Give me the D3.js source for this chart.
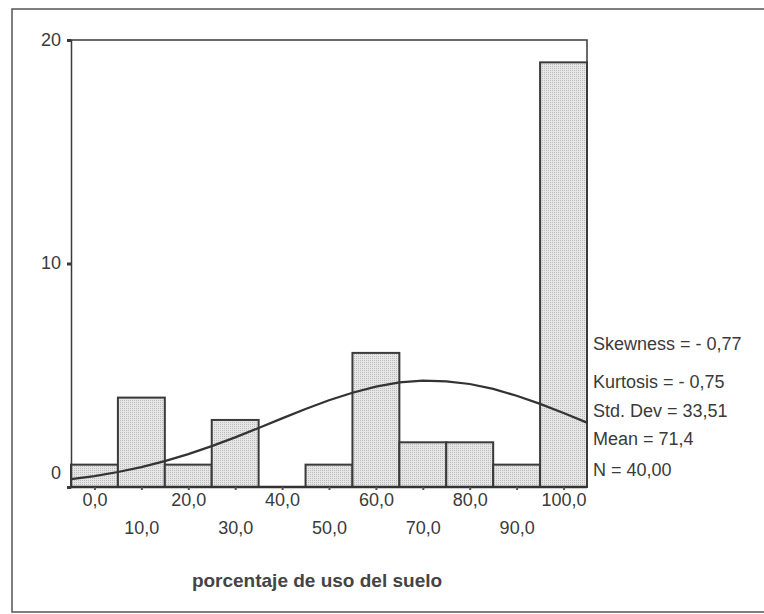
<!DOCTYPE html>
<html>
<head>
<meta charset="utf-8">
<script src="https://cdn.jsdelivr.net/npm/d3@7"></script>
<style>
  body { margin: 0; background: #fff; }
  svg { display: block; font-family: "Liberation Sans", Arial, sans-serif; }
</style>
</head>
<body>
<div id="chart"></div>
<script>
// histogram data (bin centres and counts)
var binCenters = [0, 10, 20, 30, 40, 50, 60, 70, 80, 90, 100];
var counts = [1, 4, 1, 3, 0, 1, 6, 2, 2, 1, 19];

// normal curve
var curveX = [-5, 0, 5, 10, 15, 20, 25, 30, 35, 40, 45, 50, 55, 60, 65, 70, 75, 80, 85, 90, 95, 100, 105];
var curveY = [0.35, 0.49, 0.67, 0.89, 1.16, 1.47, 1.83, 2.22, 2.64, 3.07, 3.49, 3.88, 4.22, 4.49, 4.68, 4.76, 4.73, 4.61, 4.39, 4.08, 3.72, 3.31, 2.88];

var yTicks = [0, 10, 20];
var statLabels = ["Skewness = - 0,77", "Kurtosis = - 0,75", "Std. Dev = 33,51", "Mean = 71,4", "N = 40,00"];
var xTitle = "porcentaje de uso del suelo";

var W = 764, H = 614;
var ink = "#3a3a3a";

var svg = d3.select("#chart").append("svg")
    .attr("width", W)
    .attr("height", H);

// stipple fill like the scan
var defs = svg.append("defs");
var pat = defs.append("pattern")
    .attr("id", "dots")
    .attr("width", 2)
    .attr("height", 2)
    .attr("patternUnits", "userSpaceOnUse");
pat.append("rect").attr("width", 2).attr("height", 2).attr("fill", "#e6e6e6");
pat.append("rect").attr("width", 1).attr("height", 1).attr("fill", "#bdbdbd");

// outer frame
svg.append("rect")
    .attr("x", 12).attr("y", 9)
    .attr("width", W + 10).attr("height", 603)
    .attr("fill", "none")
    .attr("stroke", "#555")
    .attr("stroke-width", 1.5);

var x = d3.scaleLinear().domain([-5, 105]).range([71, 587]);
var y = d3.scaleLinear().domain([0, 20]).range([487, 40]);

// plot box top and right
svg.append("path")
    .attr("d", "M" + x(-5) + "," + y(20) + "H" + x(105) + "V" + y(0))
    .attr("fill", "none")
    .attr("stroke", ink)
    .attr("stroke-width", 1.5);

// bars
var bins = binCenters.map(function (c, i) {
    return { c: c, n: counts[i] };
}).filter(function (d) { return d.n > 0; });

svg.append("g").selectAll("rect")
    .data(bins)
    .enter().append("rect")
    .attr("x", function (d) { return x(d.c - 5); })
    .attr("y", function (d) { return y(d.n); })
    .attr("width", function (d) { return x(d.c + 5) - x(d.c - 5); })
    .attr("height", function (d) { return y(0) - y(d.n); })
    .attr("fill", "url(#dots)")
    .attr("stroke", ink)
    .attr("stroke-width", 2);

// normal curve
var line = d3.line()
    .x(function (d, i) { return x(curveX[i]); })
    .y(function (d) { return y(d); });

svg.append("path")
    .datum(curveY)
    .attr("d", line)
    .attr("fill", "none")
    .attr("stroke", "#333")
    .attr("stroke-width", 2.2);

// y axis
var yAxis = svg.append("g")
    .attr("transform", "translate(" + x(-5) + ",0)")
    .call(d3.axisLeft(y).tickValues(yTicks).tickSize(4).tickPadding(6));
yAxis.select(".domain").attr("stroke", ink).attr("stroke-width", 1.5);
yAxis.selectAll(".tick line").attr("stroke", ink).attr("stroke-width", 3);
yAxis.selectAll(".tick text")
    .attr("font-size", 18)
    .attr("fill", ink)
    .attr("font-family", "Liberation Sans, Arial, sans-serif")
    .attr("dy", function (d) { return d === 0 ? "-0.47em" : "0.3em"; });

// x axis
var fmt = function (d) { return d3.format(".1f")(d).replace(".", ","); };
var xAxis = svg.append("g")
    .attr("transform", "translate(0," + y(0) + ")")
    .call(d3.axisBottom(x).tickValues(binCenters).tickSize(3).tickPadding(5).tickFormat(fmt));
xAxis.select(".domain")
    .attr("d", "M" + x(-5) + ",0H" + x(105))
    .attr("stroke", "#333")
    .attr("stroke-width", 2.5);
xAxis.selectAll(".tick line").attr("stroke", "#555").attr("stroke-width", 2);
xAxis.selectAll(".tick text")
    .attr("font-size", 18)
    .attr("fill", ink)
    .attr("font-family", "Liberation Sans, Arial, sans-serif")
    .attr("y", function (d, i) { return i % 2 === 0 ? 6 : 34; });

// statistics
svg.append("g").selectAll("text")
    .data(statLabels)
    .enter().append("text")
    .attr("x", 593)
    .attr("y", function (d, i) { return [350, 388, 417, 445, 476][i]; })
    .attr("font-size", 18)
    .attr("fill", ink)
    .text(function (d) { return d; });

// axis title
svg.append("text")
    .attr("x", 317)
    .attr("y", 587)
    .attr("text-anchor", "middle")
    .attr("font-size", 19)
    .attr("font-weight", "bold")
    .attr("fill", "#444")
    .text(xTitle);
</script>
</body>
</html>
